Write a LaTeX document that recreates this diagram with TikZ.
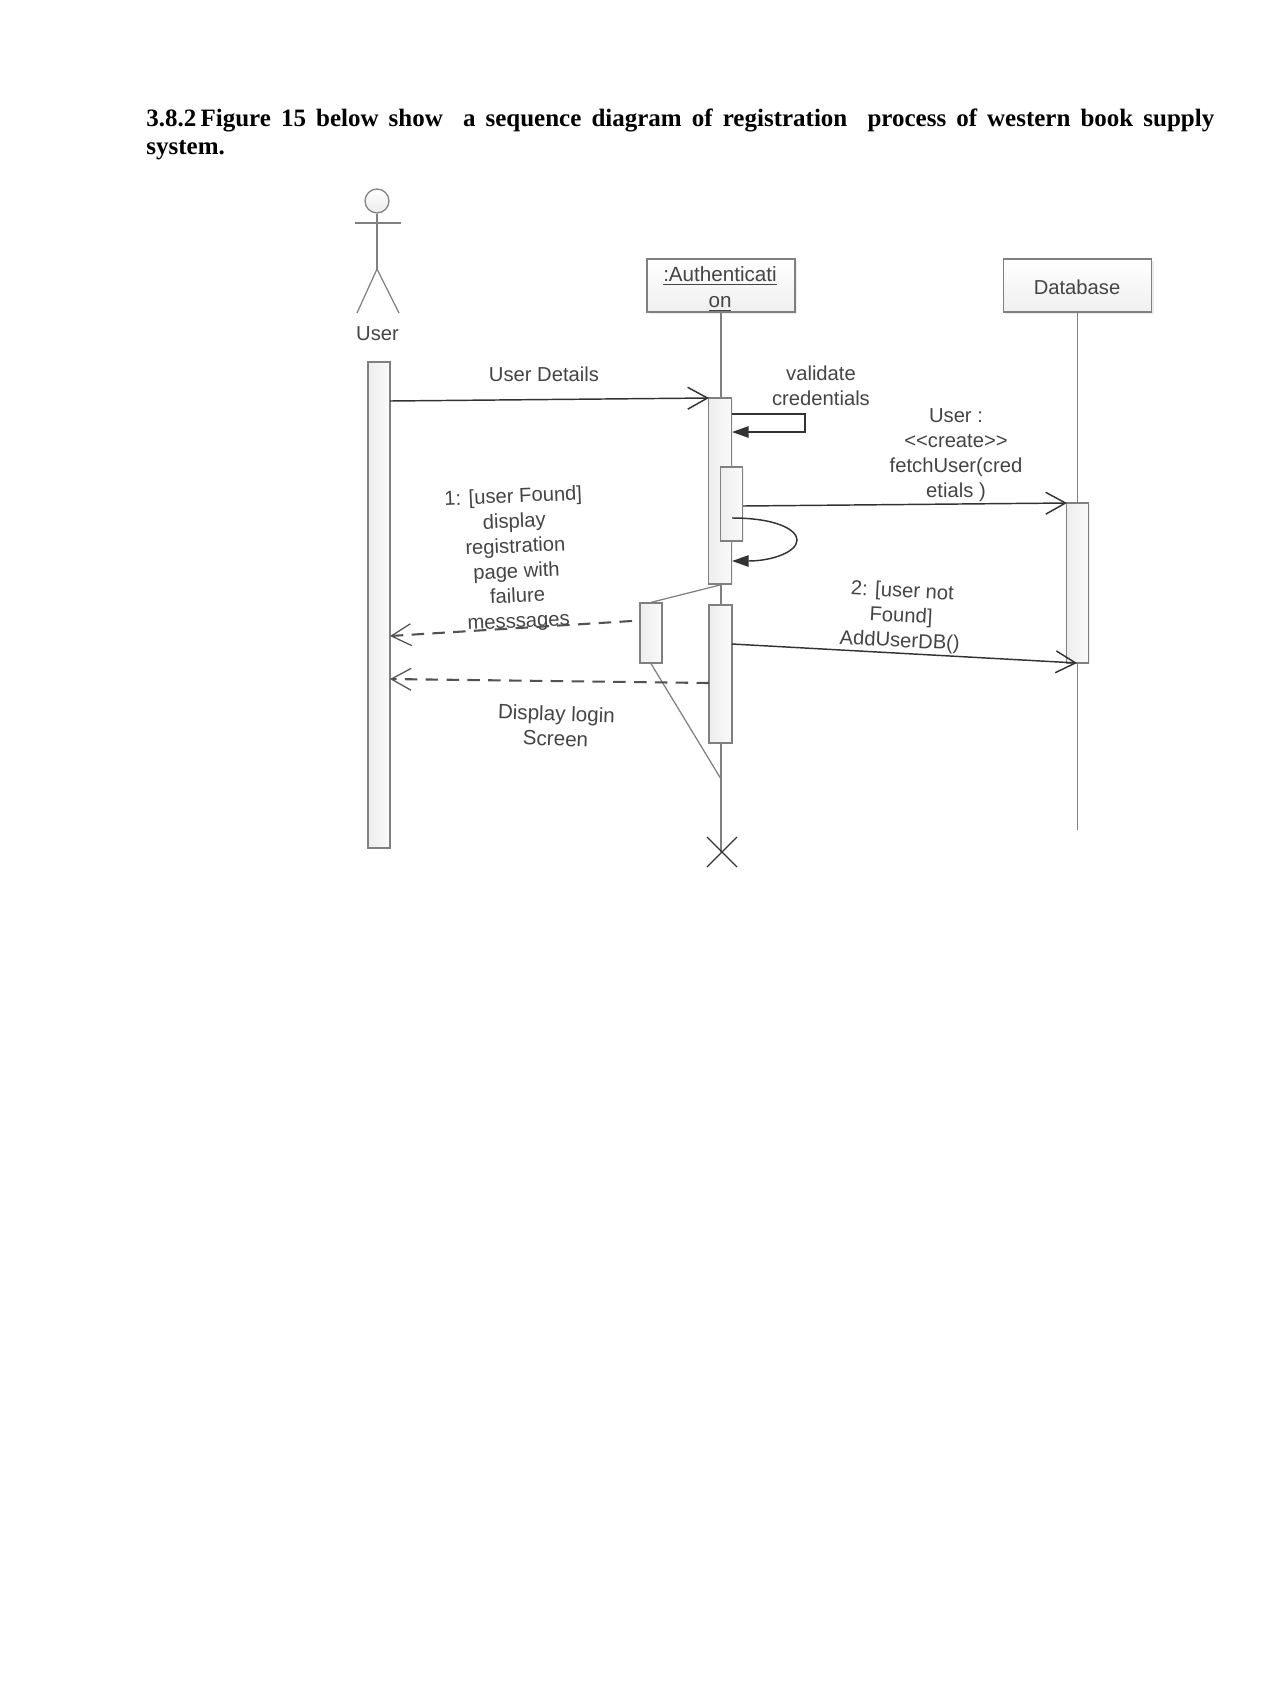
\documentclass[tikz,border=0pt]{standalone}
\usepackage{fontspec}
\setmainfont{Liberation Serif}
\newfontfamily\umlfont{Liberation Sans}
\usetikzlibrary{arrows.meta, shadows}

\definecolor{umlline}{HTML}{808080}
\definecolor{umltext}{HTML}{444444}
\definecolor{umlmsg}{HTML}{333333}

\tikzset{
	lifebox/.style={draw=umlline, line width=0.6pt, top color=white, bottom color=black!6, drop shadow={shadow xshift=1pt, shadow yshift=-1pt, opacity=0.15},
		minimum width=71pt, minimum height=25.4pt, inner sep=0pt},
	actbar/.style={draw=umlline, line width=0.6pt, left color=black!7, right color=black!2, drop shadow={shadow xshift=0.7pt, shadow yshift=-0.7pt, opacity=0.12},
		inner sep=0pt},
	umllabel/.style={font=\umlfont\fontsize{9.7}{12}\selectfont, text=umltext, align=center, inner sep=0pt},
	lifeline/.style={draw=umlline, line width=0.6pt},
	openmsg/.style={draw=umlmsg, line width=0.7pt, -{Straight Barb[length=9.5pt,width=10.5pt]}},
	replymsg/.style={draw=umlmsg!85, line width=1pt, dash pattern=on 6pt off 4pt, -{Straight Barb[length=9.5pt,width=10.5pt,line width=0.6pt]}},
	selfmsg/.style={draw=umlmsg, line width=0.7pt, -{Triangle[length=8pt,width=5.5pt]}},
}

\begin{document}
\begin{tikzpicture}[x=0.48pt, y=-0.48pt]
\useasboundingbox (0,0) rectangle (1275,1703);

%Heading
\node[anchor=north west, inner sep=0pt, text width=512.6pt, align=justify, font=\bfseries\fontsize{12}{13.8}\selectfont] (heading) at (146,108)
	{3.8.2\hspace{2pt}Figure 15 below show\ \ a sequence diagram of registration\ \ process of western book supply\linebreak system.\par};

%Actor
\node[circle, draw=umlline, line width=0.6pt, top color=white, bottom color=black!8, minimum size=11.5pt, inner sep=0pt] (head) at (377,201) {};
\coordinate (hip) at (377,269);
\coordinate (armleft) at (355,223);
\coordinate (armright) at (401,223);
\coordinate (footleft) at (357,313);
\coordinate (footright) at (399,313);
\draw[lifeline] (head) -- (hip);
\draw[lifeline] (armleft) -- (armright);
\draw[lifeline] (footleft) -- (hip) -- (footright);
\node[umllabel] (user) at (377.5,334) {User};

%Lifelines
\node[lifebox] (auth) at (721,285.5) {};
\node[umllabel, font=\umlfont\fontsize{9.9}{12}\selectfont] (authname) at (720,289) {\underline{:Authenticati}\\[0.6pt]\underline{on}};
\node[lifebox] (db) at (1077.5,285.5) {};
\node[umllabel] (dbname) at (1077,287) {Database};

\coordinate (authend) at (721,852);
\coordinate (dbend) at (1077.5,830);
\draw[lifeline] (auth) -- (authend);
\draw[lifeline] (db) -- (dbend);

%Destroy mark
\coordinate (xa) at (707,837);
\coordinate (xb) at (737,867);
\coordinate (xc) at (737,837);
\coordinate (xd) at (707,867);
\draw[umlmsg, line width=0.6pt] (xa) -- (xb);
\draw[umlmsg, line width=0.6pt] (xc) -- (xd);

%Activation bars
\foreach \name/\x/\y/\w/\h in {usrbar/379/605/22/486, authbar/720/491/23/186, nestbar/731.5/504/22/74, dbbar/1077.5/583/22/160, lowbar/720.5/674/23/138, failbar/651/633/22/60}
{
	\node[actbar, minimum width=\w*0.48pt, minimum height=\h*0.48pt] (\name) at (\x,\y) {};
}

%Guard lines
\coordinate (guardtop) at (720,585);
\coordinate (guardbottom) at (721,779);
\draw[lifeline] (guardtop) -- (failbar.north);
\draw[lifeline] (failbar.south) -- (guardbottom);

%Coordinates of messages
\coordinate (details-start) at (390,401);
\coordinate (details-end) at (709,398);
\coordinate (valid-a) at (732,414);
\coordinate (valid-b) at (805,414);
\coordinate (valid-c) at (805,432);
\coordinate (valid-d) at (732,432);
\coordinate (fetch-start) at (743,506);
\coordinate (fetch-end) at (1067,503);
\coordinate (loop-start) at (732,518);
\coordinate (loop-end) at (732,561);
\coordinate (add-start) at (732,644);
\coordinate (add-end) at (1077,663);
\coordinate (fail-start) at (632,621);
\coordinate (fail-end) at (390,636);
\coordinate (login-start) at (709,683);
\coordinate (login-end) at (390,679);

%Messages
\draw[openmsg] (details-start) -- (details-end);
\draw[selfmsg] (valid-a) -- (valid-b) -- (valid-c) -- (valid-d);
\draw[openmsg] (fetch-start) -- (fetch-end);
\draw[selfmsg] (loop-start) .. controls (777,518) and (797,530) .. (797,540) .. controls (797,552) and (772,561) .. (loop-end);
\draw[openmsg] (add-start) -- (add-end);
\draw[replymsg] (fail-start) -- (fail-end);
\draw[replymsg] (login-start) -- (login-end);

% Nodes
\node[umllabel] (detailstext) at (544,374) {User Details};
\node[umllabel] (validtext) at (821,386) {validate\\credentials};
\node[umllabel] (fetchtext) at (956,455) {User :\\{<<}create{>>}\\fetchUser(cred\\etials )};
\node[umllabel, rotate=2.5] (failtext) at (516,560) {1: [user Found]\\display\\registration\\page with\\failure\\messsages};
\node[umllabel, rotate=-3] (addtext) at (901,617) {2: [user not\\Found]\\AddUserDB()};
\node[umllabel, rotate=-2, font=\umlfont\fontsize{9.9}{12}\selectfont] (logintext) at (556,726) {Display login\\Screen};

\end{tikzpicture}
\end{document}
